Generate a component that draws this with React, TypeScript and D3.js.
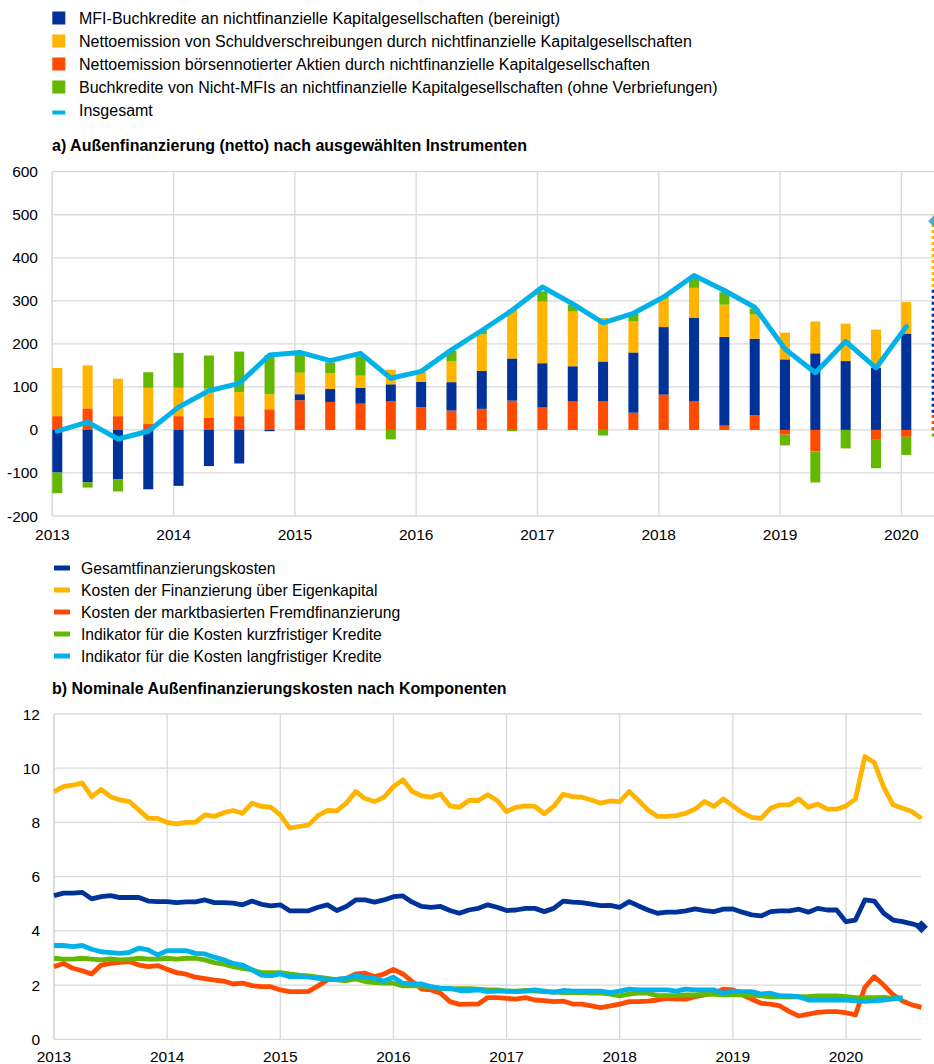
import React from "react";
import * as d3 from "d3";

// ---------- Panel a: quarterly data 2013Q1 – 2020Q1 (EUR bn) ----------
const quarters = d3.range(29); // 0 = 2013Q1 ... 28 = 2020Q1
const mfiLoans = [-99, -122, -115, -138, -130, -84, -78, -3, 14, 30, 37, 40, 59, 66, 88, 98, 103, 82, 93, 140, 157, 195, 206, 178, 164, 178, 160, 144, 224];
const debtIssuance = [112, 100, 87, 83, 66, 67, 56, 35, 50, 37, 28, 34, 23, 48, 85, 114, 143, 127, 101, 72, 66, 69, 75, 56, 62, 74, 87, 89, 73];
const equityIssuance = [32, 50, 32, 15, 32, 29, 32, 48, 69, 65, 61, 66, 53, 45, 49, 68, 52, 66, 66, 40, 82, 66, 10, 34, -11, -50, 0, -23, -16];
const nonMfiLoans = [-48, -12, -28, 36, 81, 77, 94, 91, 44, 25, 45, -22, 0, 25, 9, -3, 24, 16, -13, 18, 3, 23, 29, 14, -25, -72, -43, -66, -42];
const totalFlows = [-3, 18, -21, -3, 53, 91, 108, 174, 180, 161, 178, 120, 136, 186, 231, 278, 332, 293, 249, 271, 309, 359, 324, 285, 188, 133, 206, 144, 240];
// preliminary 2020Q2 (dashed)
const prelimIndex = 29;
const prelimEquity = 40;
const prelimMfi = 292;
const prelimDebt = 168;
const prelimNonMfi = -15;
const prelimTotal = 485;
const aTicks = [-200, -100, 0, 100, 200, 300, 400, 500, 600];
const years = [2013, 2014, 2015, 2016, 2017, 2018, 2019, 2020];

const legendA = [
  { label: "MFI-Buchkredite an nichtfinanzielle Kapitalgesellschaften (bereinigt)", color: "#003299", type: "box" },
  { label: "Nettoemission von Schuldverschreibungen durch nichtfinanzielle Kapitalgesellschaften", color: "#FFB400", type: "box" },
  { label: "Nettoemission börsennotierter Aktien durch nichtfinanzielle Kapitalgesellschaften", color: "#FF4B00", type: "box" },
  { label: "Buchkredite von Nicht-MFIs an nichtfinanzielle Kapitalgesellschaften (ohne Verbriefungen)", color: "#65B800", type: "box" },
  { label: "Insgesamt", color: "#00B1EA", type: "line" },
];

// ---------- Panel b: monthly data Jan 2013 – Sep 2020 (% p.a.) ----------
const totalCost = [5.30, 5.39, 5.39, 5.42, 5.18, 5.26, 5.30, 5.23, 5.23, 5.23, 5.10, 5.08, 5.08, 5.04, 5.07, 5.07, 5.14, 5.04, 5.04, 5.02, 4.96, 5.10, 4.98, 4.92, 4.96, 4.74, 4.74, 4.74, 4.87, 4.96, 4.75, 4.90, 5.14, 5.14, 5.06, 5.14, 5.26, 5.29, 5.06, 4.90, 4.87, 4.90, 4.75, 4.65, 4.77, 4.83, 4.96, 4.87, 4.75, 4.77, 4.83, 4.83, 4.71, 4.83, 5.10, 5.06, 5.04, 4.99, 4.93, 4.94, 4.87, 5.08, 4.92, 4.77, 4.65, 4.69, 4.69, 4.74, 4.81, 4.75, 4.71, 4.80, 4.81, 4.69, 4.59, 4.55, 4.71, 4.74, 4.74, 4.80, 4.69, 4.83, 4.77, 4.77, 4.34, 4.40, 5.14, 5.10, 4.65, 4.40, 4.34, 4.26, 4.15];
const equityCost = [9.14, 9.32, 9.38, 9.45, 8.95, 9.22, 8.95, 8.83, 8.77, 8.46, 8.15, 8.15, 8.00, 7.95, 8.00, 8.00, 8.28, 8.22, 8.36, 8.44, 8.34, 8.71, 8.59, 8.56, 8.28, 7.79, 7.85, 7.91, 8.25, 8.44, 8.43, 8.71, 9.14, 8.88, 8.77, 8.93, 9.32, 9.57, 9.14, 8.98, 8.93, 9.05, 8.61, 8.56, 8.81, 8.81, 9.02, 8.81, 8.40, 8.56, 8.61, 8.59, 8.32, 8.59, 9.04, 8.95, 8.93, 8.83, 8.71, 8.79, 8.77, 9.14, 8.81, 8.46, 8.22, 8.22, 8.25, 8.34, 8.49, 8.77, 8.59, 8.87, 8.61, 8.36, 8.19, 8.15, 8.52, 8.65, 8.65, 8.87, 8.56, 8.68, 8.49, 8.49, 8.61, 8.86, 10.43, 10.21, 9.30, 8.65, 8.52, 8.40, 8.15];
const marketDebtCost = [2.68, 2.80, 2.62, 2.53, 2.41, 2.74, 2.80, 2.84, 2.87, 2.74, 2.68, 2.72, 2.58, 2.46, 2.40, 2.29, 2.24, 2.18, 2.15, 2.04, 2.07, 1.98, 1.94, 1.94, 1.82, 1.76, 1.76, 1.77, 1.97, 2.19, 2.21, 2.25, 2.41, 2.44, 2.31, 2.41, 2.58, 2.41, 2.13, 1.85, 1.82, 1.70, 1.39, 1.29, 1.30, 1.30, 1.54, 1.54, 1.51, 1.48, 1.54, 1.45, 1.43, 1.39, 1.41, 1.30, 1.30, 1.23, 1.17, 1.23, 1.30, 1.39, 1.39, 1.41, 1.45, 1.51, 1.48, 1.48, 1.57, 1.64, 1.72, 1.85, 1.82, 1.64, 1.48, 1.33, 1.30, 1.23, 1.02, 0.86, 0.93, 0.99, 1.02, 1.02, 0.98, 0.90, 1.92, 2.31, 2.00, 1.64, 1.41, 1.27, 1.18];
const shortLoanCost = [2.99, 2.96, 2.96, 2.99, 2.96, 2.93, 2.97, 2.93, 2.95, 2.99, 2.96, 2.96, 2.99, 2.96, 2.99, 2.99, 2.93, 2.83, 2.77, 2.68, 2.62, 2.56, 2.46, 2.46, 2.46, 2.41, 2.37, 2.34, 2.29, 2.25, 2.19, 2.16, 2.23, 2.13, 2.09, 2.07, 2.07, 1.97, 1.97, 1.97, 1.92, 1.88, 1.86, 1.87, 1.87, 1.85, 1.82, 1.82, 1.78, 1.78, 1.80, 1.78, 1.76, 1.75, 1.72, 1.72, 1.72, 1.70, 1.70, 1.67, 1.60, 1.67, 1.70, 1.70, 1.61, 1.61, 1.61, 1.64, 1.64, 1.67, 1.66, 1.64, 1.64, 1.64, 1.61, 1.60, 1.57, 1.57, 1.57, 1.57, 1.57, 1.60, 1.60, 1.60, 1.57, 1.54, 1.54, 1.54, 1.55, 1.51, 1.54];
const longLoanCost = [3.46, 3.46, 3.42, 3.46, 3.32, 3.23, 3.20, 3.17, 3.21, 3.36, 3.30, 3.11, 3.27, 3.27, 3.27, 3.17, 3.15, 3.03, 2.93, 2.80, 2.74, 2.56, 2.37, 2.34, 2.41, 2.31, 2.31, 2.29, 2.25, 2.21, 2.21, 2.25, 2.34, 2.29, 2.25, 2.15, 2.29, 2.07, 2.04, 2.04, 1.94, 1.88, 1.88, 1.80, 1.80, 1.82, 1.76, 1.78, 1.78, 1.76, 1.78, 1.82, 1.78, 1.73, 1.80, 1.78, 1.78, 1.78, 1.78, 1.72, 1.78, 1.85, 1.82, 1.82, 1.82, 1.82, 1.78, 1.85, 1.82, 1.82, 1.82, 1.70, 1.78, 1.76, 1.76, 1.67, 1.70, 1.60, 1.60, 1.57, 1.45, 1.45, 1.45, 1.45, 1.45, 1.42, 1.40, 1.42, 1.45, 1.49, 1.51];
const bTicks = [0, 2, 4, 6, 8, 10, 12];

const legendB = [
  { label: "Gesamtfinanzierungskosten", color: "#003299" },
  { label: "Kosten der Finanzierung über Eigenkapital", color: "#FFB400" },
  { label: "Kosten der marktbasierten Fremdfinanzierung", color: "#FF4B00" },
  { label: "Indikator für die Kosten kurzfristiger Kredite", color: "#65B800" },
  { label: "Indikator für die Kosten langfristiger Kredite", color: "#00B1EA" },
];

const FONT = "'Liberation Sans', Arial, sans-serif";
const GRID = "#d9d9d9";
const LEGEND_A_FS = 16;
const LEGEND_B_FS = 15.7;
const TICK_FS = 15.5;
const TITLE_FS = 16;

export default function App() {
  const W = 934, H = 1064;

  // ---- panel a scales
  const xA = d3.scaleLinear().domain([0, 28]).range([52.3, 901.3]);
  const yA = d3.scaleLinear().domain([-200, 600]).range([516, 171.7]);
  const barW = 10;
  const keys = ["equity", "mfi", "debt", "nonMfi"];
  const colors: Record<string, string> = { equity: "#FF4B00", mfi: "#003299", debt: "#FFB400", nonMfi: "#65B800" };
  const rows = quarters.map((i) => ({
    i,
    equity: equityIssuance[i],
    mfi: mfiLoans[i],
    debt: debtIssuance[i],
    nonMfi: nonMfiLoans[i],
  }));
  const stacked = d3.stack<any>().keys(keys).offset(d3.stackOffsetDiverging)(rows);
  const prelimRow = [{ i: prelimIndex, equity: prelimEquity, mfi: prelimMfi, debt: prelimDebt, nonMfi: prelimNonMfi }];
  const prelimStacked = d3.stack<any>().keys(keys).offset(d3.stackOffsetDiverging)(prelimRow);
  const lineA = d3.line<number>().x((_, i) => xA(i) + barW / 2).y((d) => yA(d));

  // ---- panel b scales
  const xB = d3.scaleLinear().domain([0, 84]).range([54, 846]);
  const yB = d3.scaleLinear().domain([0, 12]).range([1039.3, 714]);
  const lineB = d3.line<number>().x((_, i) => xB(i)).y((d) => yB(d));
  const xBEnd = xB(92);
  const seriesB = [
    { data: totalCost, color: "#003299" },
    { data: equityCost, color: "#FFB400" },
    { data: marketDebtCost, color: "#FF4B00" },
    { data: shortLoanCost, color: "#65B800" },
    { data: longLoanCost, color: "#00B1EA" },
  ];

  const diamond = (cx: number, cy: number, r: number) => `M${cx},${cy - r}L${cx + r},${cy}L${cx},${cy + r}L${cx - r},${cy}Z`;

  return (
    <svg width={W} height={H} style={{ position: "absolute", left: 0, top: 0, background: "#fff" }} fontFamily={FONT}>
      <defs>
        <clipPath id="clipA">
          <rect x={52} y={160} width={W - 52} height={370} />
        </clipPath>
      </defs>
      <rect x={0} y={0} width={W} height={H} fill="#fff" />

      {/* Legend a */}
      {legendA.map((d, k) => {
        const cy = 18 + k * 23;
        return (
          <g key={k}>
            {d.type === "box" ? (
              <rect x={52.3} y={cy - 6.5} width={13} height={13} fill={d.color} />
            ) : (
              <rect x={52.3} y={cy + 0.5} width={13} height={4} fill={d.color} />
            )}
            <text x={79} y={cy + 5.5} fontSize={LEGEND_A_FS} fill="#000">{d.label}</text>
          </g>
        );
      })}
      <text x={52} y={151} fontSize={TITLE_FS} fontWeight="bold" fill="#000">a) Außenfinanzierung (netto) nach ausgewählten Instrumenten</text>

      {/* Panel a grid */}
      {aTicks.map((t) => (
        <g key={t}>
          <line x1={52} x2={W} y1={yA(t)} y2={yA(t)} stroke={GRID} strokeWidth={1.3} />
          <text x={38} y={yA(t) + 5.5} fontSize={TICK_FS} textAnchor="end" fill="#000">{t}</text>
        </g>
      ))}
      {years.map((y, k) => (
        <g key={y}>
          <line x1={xA(k * 4)} x2={xA(k * 4)} y1={yA(600)} y2={yA(-200)} stroke={GRID} strokeWidth={1.3} />
          <text x={xA(k * 4)} y={540} fontSize={TICK_FS} textAnchor="middle" fill="#000">{y}</text>
        </g>
      ))}
      <line x1={52.3} x2={52.3} y1={yA(600)} y2={yA(-200)} stroke={GRID} strokeWidth={1.5} />

      <g clipPath="url(#clipA)">
        {stacked.map((s) => (
          <g key={s.key} fill={colors[s.key]}>
            {s.map((d: any, j: number) => {
              const y0 = yA(d[0]);
              const y1 = yA(d[1]);
              return <rect key={j} x={xA(j)} y={Math.min(y0, y1)} width={barW} height={Math.abs(y0 - y1)} />;
            })}
          </g>
        ))}
        {/* preliminary quarter: dashed */}
        {prelimStacked.map((s) =>
          s.map((d: any, j: number) => {
            const y0 = yA(d[0]);
            const y1 = yA(d[1]);
            const x = xA(prelimIndex) + 1.5;
            return (
              <line key={s.key + j} x1={x} x2={x} y1={Math.max(y0, y1)} y2={Math.min(y0, y1)}
                stroke={colors[s.key]} strokeWidth={3} strokeDasharray="3,3" />
            );
          })
        )}
        <path d={lineA(totalFlows) || ""} fill="none" stroke="#00B1EA" strokeWidth={5} strokeLinejoin="round" strokeLinecap="round" />
        <path d={diamond(xA(prelimIndex) + 2.5, yA(prelimTotal), 6)} fill="#4BACC6" />
      </g>

      {/* Legend b */}
      {legendB.map((d, k) => {
        const cy = 568 + k * 22;
        return (
          <g key={k}>
            <rect x={54} y={cy - 2.5} width={16} height={5} fill={d.color} />
            <text x={81} y={cy + 5.5} fontSize={LEGEND_B_FS} fill="#000">{d.label}</text>
          </g>
        );
      })}
      <text x={52} y={693.5} fontSize={TITLE_FS} fontWeight="bold" fill="#000">b) Nominale Außenfinanzierungskosten nach Komponenten</text>

      {/* Panel b grid */}
      {bTicks.map((t) => (
        <g key={t}>
          <line x1={54} x2={xBEnd} y1={yB(t)} y2={yB(t)} stroke={GRID} strokeWidth={1.3} />
          <text x={40} y={yB(t) + 5.5} fontSize={TICK_FS} textAnchor="end" fill="#000">{t}</text>
        </g>
      ))}
      {years.map((y, k) => (
        <g key={y}>
          <line x1={xB(k * 12)} x2={xB(k * 12)} y1={yB(12)} y2={yB(0)} stroke={GRID} strokeWidth={1.3} />
          <text x={xB(k * 12)} y={1062} fontSize={TICK_FS} textAnchor="middle" fill="#000">{y}</text>
        </g>
      ))}
      <line x1={54} x2={54} y1={yB(12)} y2={yB(0)} stroke={GRID} strokeWidth={1.5} />

      {seriesB.map((s, k) => (
        <path key={k} d={lineB(s.data) || ""} fill="none" stroke={s.color} strokeWidth={4.8} strokeLinejoin="round" />
      ))}
      <path d={diamond(xB(92), yB(totalCost[92]), 6.5)} fill="#003299" />
    </svg>
  );
}
